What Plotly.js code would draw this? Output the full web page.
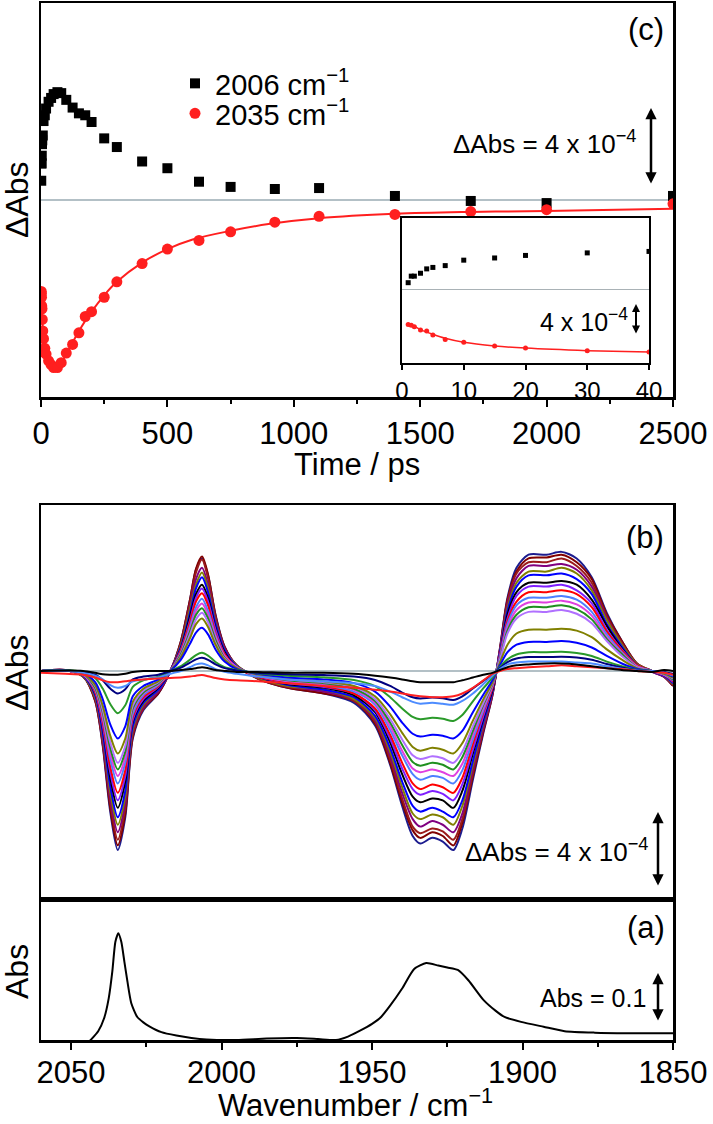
<!DOCTYPE html>
<html>
<head>
<meta charset="utf-8">
<script src="https://cdn.plot.ly/plotly-3.0.1.min.js"></script>
<style>html,body{margin:0;padding:0;background:#fff;}#chart{width:713px;height:1124px;}</style>
</head>
<body>
<div id="chart"></div>
<script>
// ---------- Panel (c): kinetics ----------
const timesC = [1,1.5,2,3,4,5,7,10,15,20,30,40,50,65,80,100,125,150,175,200,250,300,400,500,625,750,925,1100,1400,1700,2000,2500];
const kin2006 = [1.0,1.9,1.9,2.3,2.9,3.1,3.35,4.1,4.4,4.75,5.1,5.3,5.5,5.6,5.55,5.2,4.8,4.5,4.4,4.05,3.2,2.75,2.0,1.65,0.95,0.68,0.57,0.62,0.21,-0.05,-0.16,0.21];
const kin2035 = [-4.75,-4.85,-5.05,-5.5,-5.65,-6.2,-6.8,-7.2,-7.7,-8.0,-8.35,-8.55,-8.7,-8.7,-8.45,-7.95,-7.5,-6.9,-6.05,-5.8,-5.05,-4.25,-3.3,-2.55,-2.1,-1.65,-1.15,-0.85,-0.75,-0.6,-0.5,-0.2];
const fitT = [1,2,3,5,7,10,15,20,30,40,50,65,80,100,125,150,200,250,300,400,500,600,750,900,1100,1400,1700,2000,2500];
const fit2035 = [-4.7,-5.0,-5.45,-6.1,-6.65,-7.2,-7.7,-8.0,-8.35,-8.55,-8.65,-8.65,-8.45,-8.0,-7.4,-6.8,-5.8,-4.95,-4.25,-3.25,-2.55,-2.05,-1.6,-1.25,-0.95,-0.72,-0.62,-0.57,-0.45];
const timeTicks = [0,500,1000,1500,2000,2500];
const insetTicks = [0,10,20,30,40];

// ---------- Panel (b): transient spectra ----------
const wnB = [2060,2052,2046,2042,2039.5,2037,2034.5,2032,2029.5,2026,2021,2017,2013.5,2010.5,2008.5,2006.5,2004.5,2002,1999,1995,1988,1978,1966,1956,1949,1944,1940,1936.5,1934,1930,1926.5,1923,1920,1916.5,1913,1910,1907.5,1905,1902,1898,1892,1887,1882,1877,1872,1867,1862,1857,1853,1850];
const spec01 = [0.0,0.05,-0.3,-1.6,-4.0,-7.5,-9.55,-7.8,-3.6,-2.1, -1.2,0.0,1.6,3.8,5.4,6.0,5.1,3.0,1.3,0.3, -0.4,-0.9,-1.2,-1.7,-2.9,-5.0,-7.2,-8.8,-9.2,-8.9, -9.1,-9.55,-8.4,-5.8,-3.3,-1.3,1.2,3.9,5.5,6.2, 6.2,6.35,6.0,5.0,3.1,1.6,0.4,-0.05,-0.3,-0.8];
const spec02 = [0,0.05,-0.3,-1.6,-3.9,-7.3,-9.3,-7.6,-3.5,-2.0, -1.2,0,1.6,3.8,5.45,6.1,5.15,2.95,1.3,0.3, -0.4,-0.9,-1.2,-1.6,-2.8,-4.9,-7.0,-8.5,-8.9,-8.6, -8.8,-9.3,-8.1,-5.6,-3.2,-1.3,1.2,3.8,5.3,6.0, 6.05,6.2,5.8,4.9,3.0,1.6,0.4,0,-0.3,-0.8];
const spec03 = [0,0.05,-0.3,-1.5,-3.8,-7.0,-9.0,-7.3,-3.4,-2.0, -1.1,0,1.5,3.65,5.25,5.95,4.95,2.85,1.2,0.3, -0.4,-0.85,-1.1,-1.6,-2.7,-4.7,-6.8,-8.3,-8.65,-8.4, -8.55,-9.0,-7.9,-5.45,-3.1,-1.2,1.1,3.7,5.2,5.8, 5.8,6.0,5.6,4.7,2.9,1.5,0.4,0,-0.3,-0.75];
const spec04 = [0,0.05,-0.3,-1.4,-3.6,-6.75,-8.6,-7.0,-3.2,-1.9, -1.1,0,1.4,3.4,4.9,5.5,4.6,2.7,1.2,0.3, -0.35,-0.8,-1.1,-1.5,-2.6,-4.5,-6.5,-7.9,-8.3,-8.0, -8.2,-8.6,-7.6,-5.2,-3.0,-1.2,1.1,3.5,4.95,5.6, 5.6,5.7,5.4,4.5,2.8,1.4,0.35,-0.05,-0.3,-0.7];
const spec05 = [0,0.04,-0.3,-1.4,-3.4,-6.45,-8.2,-6.7,-3.1,-1.8, -1.0,0,1.4,3.3,4.6,5.25,4.4,2.6,1.1,0.3, -0.35,-0.8,-1.0,-1.5,-2.5,-4.3,-6.2,-7.6,-7.9,-7.65, -7.8,-8.2,-7.2,-5.0,-2.8,-1.1,1.0,3.35,4.7,5.3, 5.3,5.5,5.2,4.3,2.7,1.4,0.35,0,-0.25,-0.7];
const spec06 = [0,0.04,-0.25,-1.3,-3.3,-6.15,-7.8,-6.4,-2.95,-1.7, -1.0,0,1.3,3.1,4.4,5.0,4.2,2.5,1.1,0.25, -0.3,-0.75,-1.0,-1.4,-2.4,-4.1,-5.9,-7.2,-7.5,-7.3, -7.5,-7.8,-6.9,-4.8,-2.7,-1.1,1.0,3.2,4.5,5.1, 5.1,5.2,4.9,4.1,2.5,1.3,0.3,0,-0.25,-0.65];
const spec07 = [0,0.04,-0.2,-1.2,-3.0,-5.7,-7.3,-5.9,-2.7,-1.6, -0.9,0,1.2,2.9,4.1,4.6,3.9,2.3,1.0,0.2, -0.3,-0.7,-0.9,-1.3,-2.2,-3.8,-5.5,-6.7,-7.0,-6.8, -6.9,-7.3,-6.4,-4.4,-2.5,-1.0,0.9,3.0,4.2,4.7, 4.7,4.8,4.6,3.8,2.4,1.2,0.3,0,-0.2,-0.6];
const spec08 = [0,0.04,-0.2,-1.15,-2.9,-5.4,-6.9,-5.6,-2.6,-1.5, -0.85,0,1.15,2.7,3.9,4.4,3.7,2.2,0.9,0.2, -0.3,-0.65,-0.85,-1.2,-2.1,-3.6,-5.2,-6.3,-6.6,-6.4, -6.55,-6.9,-6.05,-4.2,-2.4,-0.9,0.9,2.8,4.0,4.5, 4.5,4.6,4.3,3.6,2.2,1.15,0.3,0,-0.2,-0.6];
const spec09 = [0,0.03,-0.2,-1.1,-2.7,-5.1,-6.5,-5.3,-2.45,-1.4, -0.8,0,1.1,2.6,3.7,4.15,3.5,2.0,0.9,0.2, -0.3,-0.6,-0.8,-1.2,-2.0,-3.4,-4.9,-6.0,-6.3,-6.05, -6.2,-6.5,-5.7,-3.9,-2.2,-0.9,0.8,2.65,3.7,4.2, 4.2,4.3,4.1,3.4,2.1,1.1,0.3,0,-0.2,-0.55];
const spec10 = [0,0.03,-0.2,-1.0,-2.5,-4.7,-6.0,-4.9,-2.3,-1.3, -0.75,0,1.0,2.4,3.4,3.85,3.2,1.9,0.8,0.2, -0.25,-0.55,-0.75,-1.1,-1.8,-3.15,-4.5,-5.5,-5.8,-5.6, -5.7,-6.0,-5.3,-3.65,-2.1,-0.8,0.75,2.5,3.5,3.9, 3.9,4.0,3.8,3.15,1.95,1.0,0.25,0,-0.2,-0.5];
const spec11 = [0,0.03,-0.2,-0.95,-2.4,-4.4,-5.6,-4.6,-2.1,-1.2, -0.7,0,0.95,2.25,3.2,3.6,3.0,1.8,0.8,0.2, -0.25,-0.55,-0.7,-1.0,-1.7,-2.95,-4.25,-5.2,-5.4,-5.25, -5.4,-5.6,-4.95,-3.4,-1.95,-0.8,0.7,2.3,3.25,3.65, 3.65,3.75,3.55,2.95,1.8,0.95,0.25,0,-0.2,-0.45];
const spec12 = [0,0.03,-0.15,-0.9,-2.2,-4.1,-5.25,-4.3,-2.0,-1.15, -0.65,0,0.9,2.1,3.0,3.35,2.8,1.65,0.7,0.15, -0.2,-0.5,-0.65,-0.95,-1.6,-2.75,-3.95,-4.85,-5.05,-4.9, -5.0,-5.25,-4.6,-3.2,-1.8,-0.7,0.65,2.15,3.0,3.4, 3.4,3.5,3.3,2.75,1.7,0.9,0.2,0,-0.15,-0.45];
const spec13 = [0,0.03,-0.15,-0.8,-2.05,-3.8,-4.9,-4.0,-1.85,-1.05, -0.6,0,0.8,1.95,2.75,3.1,2.6,1.5,0.65,0.15, -0.2,-0.45,-0.6,-0.85,-1.5,-2.55,-3.65,-4.5,-4.7,-4.55, -4.65,-4.9,-4.3,-2.95,-1.7,-0.65,0.6,2.0,2.8,3.15, 3.15,3.25,3.05,2.55,1.6,0.8,0.2,0,-0.15,-0.4];
const spec14 = [0,0.02,-0.15,-0.75,-1.85,-3.45,-4.4,-3.6,-1.65,-0.95, -0.55,0,0.75,1.75,2.5,2.8,2.35,1.4,0.6,0.15, -0.2,-0.4,-0.55,-0.8,-1.35,-2.3,-3.3,-4.05,-4.25,-4.1, -4.2,-4.4,-3.85,-2.65,-1.5,-0.6,0.45,1.4,2.0,2.2, 2.2,2.25,2.15,1.8,1.15,0.6,0.15,0,-0.15,-0.35];
const spec15 = [0,0.02,-0.1,-0.6,-1.5,-2.85,-3.6,-2.95,-1.35,-0.8, -0.45,0,0.6,1.45,2.05,2.3,1.95,1.15,0.5,0.1, -0.15,-0.35,-0.45,-0.65,-1.1,-1.9,-2.75,-3.35,-3.5,-3.4, -3.45,-3.6,-3.2,-2.2,-1.25,-0.5,0.3,1.0,1.4,1.55, 1.55,1.6,1.5,1.25,0.8,0.4,0.1,0,-0.1,-0.3];
const spec16 = [0,0.05,-0.07,-0.38,-0.94,-1.76,-2.25,-1.83,-0.85,-0.5, -0.3,0,0.26,0.6,0.85,0.97,0.82,0.48,0.2,0.05, -0.12,-0.25,-0.34,-0.48,-0.81,-1.4,-2.0,-2.45,-2.58,-2.5, -2.55,-2.67,-2.35,-1.62,-0.92,-0.36,0.2,0.62,0.88,1.0, 1.0,1.02,0.96,0.8,0.5,0.26,0.06,0,-0.1,-0.2];
const spec17 = [0,0.03,-0.05,-0.2,-0.5,-0.94,-1.2,-0.98,-0.45,-0.3, -0.2,0,0.18,0.44,0.62,0.7,0.59,0.35,0.15,0.03, -0.1,-0.18,-0.22,-0.3,-0.48,-0.8,-1.15,-1.4,-1.47,-1.42, -1.46,-1.55,-1.35,-0.93,-0.53,-0.2,0.15,0.47,0.66,0.74, 0.74,0.76,0.72,0.6,0.37,0.19,0.05,0,-0.05,-0.15];
const spec18 = [0,0.02,-0.1,-0.25,-0.45,-0.75,-0.9,-0.8,-0.55,-0.45, -0.35,-0.15,0.0,0.2,0.35,0.4,0.3,0.1,-0.05,-0.15, -0.3,-0.45,-0.55,-0.65,-0.8,-1.1,-1.4,-1.65,-1.75,-1.7, -1.75,-1.8,-1.6,-1.2,-0.7,-0.25,0.1,0.35,0.45,0.5, 0.5,0.5,0.45,0.4,0.25,0.12,0.03,0,-0.1,-0.25];
const spec19 = [-0.1,-0.15,-0.2,-0.35,-0.5,-0.6,-0.6,-0.55,-0.5,-0.45, -0.4,-0.37,-0.35,-0.3,-0.25,-0.22,-0.28,-0.38,-0.45,-0.5, -0.55,-0.65,-0.8,-0.9,-1.0,-1.1,-1.2,-1.3,-1.35,-1.4, -1.4,-1.35,-1.2,-0.9,-0.5,-0.15,0.0,0.1,0.15,0.2, 0.25,0.3,0.25,0.2,0.15,0.1,0.0,-0.05,-0.1,-0.2];
const spec20 = [0,0.02,0,-0.1,-0.18,-0.2,-0.2,-0.15,-0.05,0, 0,0,0.05,0.1,0.15,0.2,0.15,0.05,0,-0.05, -0.05,-0.1,-0.1,-0.15,-0.25,-0.35,-0.45,-0.55,-0.6,-0.6, -0.6,-0.6,-0.5,-0.35,-0.2,-0.1,0.05,0.2,0.3,0.35, 0.4,0.4,0.35,0.25,0.15,0.05,0,-0.05,0.05,0];
const specList = [spec01,spec02,spec03,spec04,spec05,spec06,spec07,spec08,spec09,spec10,spec11,spec12,spec13,spec14,spec15,spec16,spec17,spec18,spec19,spec20];
const specColors = ['#1c1c8f','#800000','#9b1b1b','#800080','#808000','#0000ff','#000000','#7f1fff','#ff0000','#4d7fff','#e040e0','#1f8f1f','#b070ff','#808000','#0000ff','#2a9a2a','#000080','#4d8cff','#ff2020','#000000'];

// ---------- Panel (a): FTIR absorbance ----------
const wnA = [2060,2050,2045,2043.5,2041,2039,2037.5,2036.3,2035.3,2034.3,2033.3,2032.3,2031.3,2030,2028,2026,2024,2020,2015,2010,2005,1995,1985,1975,1968,1962,1958,1954,1950,1947,1944,1940,1936,1932,1928,1925,1921.5,1918,1913,1909,1906,1900.5,1893,1886,1876,1865,1850];
const absA = [-0.1,-0.05,-0.01,0.0,0.018,0.045,0.085,0.14,0.2,0.218,0.2,0.16,0.12,0.075,0.047,0.036,0.028,0.016,0.009,0.004,0.001,0.0,0.003,0.004,0.002,0.0,0.007,0.019,0.033,0.047,0.07,0.105,0.145,0.157,0.152,0.148,0.143,0.122,0.082,0.06,0.047,0.037,0.027,0.018,0.015,0.014,0.014];
const wnTicks = [2050,2000,1950,1900,1850];

const FONT = 'Liberation Sans, Arial, Helvetica, sans-serif';
const traces = [];

// (c) main
traces.push({x: fitT, y: fit2035, xaxis:'x', yaxis:'y', mode:'lines', line:{color:'#ff1f1f', width:2, shape:'spline'}, showlegend:false});
traces.push({x: timesC, y: kin2006, xaxis:'x', yaxis:'y', mode:'markers', name:'2006 cm<sup>−1</sup>', legend:'legend', marker:{symbol:'square', size:10, color:'#000'}});
traces.push({x: timesC, y: kin2035, xaxis:'x', yaxis:'y', mode:'markers', name:'2035 cm<sup>−1</sup>', legend:'legend2', marker:{symbol:'circle', size:11, color:'#ff1f1f'}});
// (c) inset
traces.push({x: fitT, y: fit2035, xaxis:'x4', yaxis:'y4', mode:'lines', line:{color:'#ff1f1f', width:1.5, shape:'spline'}, showlegend:false});
traces.push({x: timesC, y: kin2006, xaxis:'x4', yaxis:'y4', mode:'markers', marker:{symbol:'square', size:5, color:'#000'}, showlegend:false});
traces.push({x: timesC, y: kin2035, xaxis:'x4', yaxis:'y4', mode:'markers', marker:{symbol:'circle', size:5, color:'#ff1f1f'}, showlegend:false});
// (b)
specList.forEach((s, i) => {
  traces.push({x: wnB, y: s, xaxis:'x2', yaxis:'y2', mode:'lines', line:{color: specColors[i], width:2, shape:'spline', smoothing:0.8}, showlegend:false});
});
// (a)
traces.push({x: wnA, y: absA, xaxis:'x3', yaxis:'y3', mode:'lines', line:{color:'#000', width:2, shape:'spline', smoothing:0.6}, showlegend:false});

const L = 41, W = 632, H = 1037;
const px = v => (v - L) / W;
const py = v => (1040 - v) / H;

const axLine = {showline:true, linecolor:'#000', linewidth:2.5, mirror:true, showgrid:false, zeroline:false};
const tickFont = {family: FONT, size: 31, color:'#000'};
const legFont = {family: FONT, size: 29, color:'#000'};

const arrowStyle = {xref:'paper', yref:'paper', ax:0, text:'', showarrow:true, arrowside:'end+start', arrowhead:2, startarrowhead:2, arrowsize:0.9, startarrowsize:0.9, arrowwidth:2.5, arrowcolor:'#000', standoff:0, startstandoff:0};

const layout = {
  width: 713, height: 1124, autosize:false,
  margin: {l: 41, r: 40, t: 3, b: 84},
  paper_bgcolor:'#fff', plot_bgcolor:'rgba(0,0,0,0)',
  font: {family: FONT, color:'#000'},
  showlegend: true,
  legend: {x: px(175), y: py(58), xanchor:'left', yanchor:'top', font: legFont, bgcolor:'rgba(0,0,0,0)', borderwidth:0, itemwidth:30},
  legend2: {x: px(175), y: py(88), xanchor:'left', yanchor:'top', font: legFont, bgcolor:'rgba(0,0,0,0)', borderwidth:0, itemwidth:30},
  xaxis: Object.assign({}, axLine, {domain:[0,1], anchor:'y', range:[0,2500], tickmode:'array', tickvals: timeTicks, ticks:'outside', ticklen:7, tickwidth:2, tickcolor:'#000', tickfont: tickFont,
    minor:{tickmode:'linear', tick0:0, dtick:250, ticks:'outside', ticklen:4, tickwidth:2, tickcolor:'#000'}}),
  yaxis: Object.assign({}, axLine, {domain:[py(397), 1], anchor:'x', range:[-10.23, 10.23], showticklabels:false, ticks:'', zeroline:true, zerolinecolor:'#b3c0c6', zerolinewidth:2.5}),
  xaxis2: Object.assign({}, axLine, {domain:[0,1], anchor:'y2', range:[2060,1850], showticklabels:false, ticks:''}),
  yaxis2: Object.assign({}, axLine, {domain:[py(899), py(505)], anchor:'x2', range:[-12.16, 8.85], showticklabels:false, ticks:'', zeroline:true, zerolinecolor:'#b3c0c6', zerolinewidth:2.5}),
  xaxis3: Object.assign({}, axLine, {domain:[0,1], anchor:'y3', range:[2060,1850], tickmode:'array', tickvals: wnTicks, ticks:'outside', ticklen:7, tickwidth:2, tickcolor:'#000', tickfont: tickFont, ticklabelstandoff:-4,
    minor:{tickmode:'linear', tick0:1850, dtick:25, ticks:'outside', ticklen:4, tickwidth:2, tickcolor:'#000'}}),
  yaxis3: Object.assign({}, axLine, {domain:[0, py(899)], anchor:'x3', range:[0, 0.2878], showticklabels:false, ticks:''}),
  xaxis4: Object.assign({}, axLine, {linewidth:2, domain:[px(402), px(649)], anchor:'y4', range:[0,40], tickmode:'array', tickvals: insetTicks, ticks:'outside', ticklen:5, tickwidth:2, tickcolor:'#000', tickfont:{family:FONT, size:24, color:'#000'}}),
  yaxis4: Object.assign({}, axLine, {linewidth:2, domain:[py(363), py(218)], anchor:'x4', range:[-10.05, 9.9], showticklabels:false, ticks:'', zeroline:true, zerolinecolor:'#a9b2b6', zerolinewidth:1}),
  annotations: [
    {xref:'paper', yref:'paper', x:px(17), y:py(200), text:'ΔAbs', textangle:-90, showarrow:false, font:{family:FONT, size:32}, xanchor:'center', yanchor:'middle'},
    {xref:'paper', yref:'paper', x:px(17), y:py(673), text:'ΔAbs', textangle:-90, showarrow:false, font:{family:FONT, size:32}, xanchor:'center', yanchor:'middle'},
    {xref:'paper', yref:'paper', x:px(17), y:py(972), text:'Abs', textangle:-90, showarrow:false, font:{family:FONT, size:32}, xanchor:'center', yanchor:'middle'},
    {xref:'paper', yref:'paper', x:0.5, y:py(465), text:'Time / ps', showarrow:false, font:{family:FONT, size:31}, xanchor:'center', yanchor:'middle'},
    {xref:'paper', yref:'paper', x:px(355), y:py(1103), text:'Wavenumber / cm<sup>−1</sup>', showarrow:false, font:{family:FONT, size:31}, xanchor:'center', yanchor:'middle'},
    {xref:'paper', yref:'paper', x:px(646), y:py(30), text:'(c)', showarrow:false, font:{family:FONT, size:31}, xanchor:'center', yanchor:'middle'},
    {xref:'paper', yref:'paper', x:px(645), y:py(537), text:'(b)', showarrow:false, font:{family:FONT, size:31}, xanchor:'center', yanchor:'middle'},
    {xref:'paper', yref:'paper', x:px(646), y:py(927), text:'(a)', showarrow:false, font:{family:FONT, size:31}, xanchor:'center', yanchor:'middle'},
    {xref:'paper', yref:'paper', x:px(638), y:py(143), text:'ΔAbs = 4 x 10<sup>−4</sup>', showarrow:false, font:{family:FONT, size:26}, xanchor:'right', yanchor:'middle'},
    {xref:'paper', yref:'paper', x:px(650), y:py(851), text:'ΔAbs = 4 x 10<sup>−4</sup>', showarrow:false, font:{family:FONT, size:26}, xanchor:'right', yanchor:'middle'},
    {xref:'paper', yref:'paper', x:px(648), y:py(998), text:'Abs = 0.1', showarrow:false, font:{family:FONT, size:25}, xanchor:'right', yanchor:'middle'},
    {xref:'paper', yref:'paper', x:px(630), y:py(320), text:'4 x 10<sup>−4</sup>', showarrow:false, font:{family:FONT, size:25}, xanchor:'right', yanchor:'middle'},
    Object.assign({}, arrowStyle, {x:px(651), y:py(108), ay:77}),
    Object.assign({}, arrowStyle, {x:px(658), y:py(812), ay:75}),
    Object.assign({}, arrowStyle, {x:px(658), y:py(973), ay:49}),
    Object.assign({}, arrowStyle, {x:px(636), y:py(304), ay:31, arrowsize:0.8, startarrowsize:0.8, arrowwidth:2})
  ]
};

Plotly.newPlot('chart', traces, layout, {staticPlot:true, displayModeBar:false});
</script>
</body>
</html>
